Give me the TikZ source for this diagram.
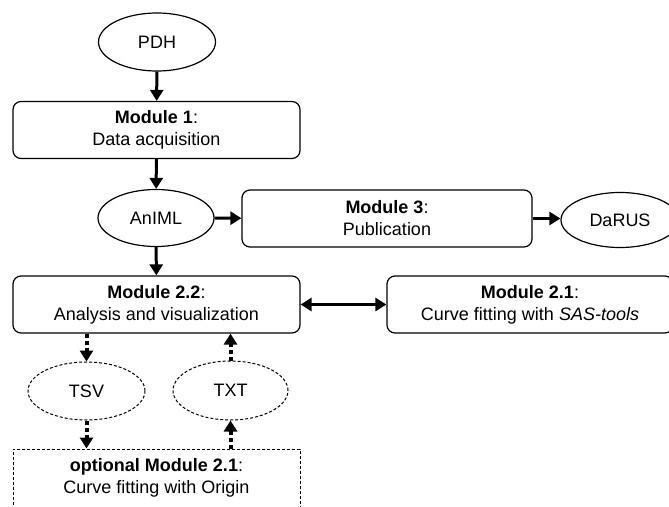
\documentclass[tikz,border=0pt]{standalone}
\usepackage{fontspec}
\setmainfont{Liberation Sans}
\usetikzlibrary{arrows.meta,shapes.geometric}
\begin{document}
\begin{tikzpicture}[x=1pt,y=-1pt,
  every node/.style={font=\fontsize{18}{22}\selectfont, align=center, inner sep=0pt},
  modbox/.style={draw, line width=1.2pt, rounded corners=8pt, minimum height=57pt},
  optbox/.style={draw, line width=1pt, dash pattern=on 3pt off 2pt, minimum height=58pt},
  oval/.style={draw, ellipse, line width=1.2pt},
  dashoval/.style={draw, ellipse, line width=1pt, dash pattern=on 3pt off 2pt},
  flow/.style={line width=3pt, -{Triangle[length=11pt,width=13pt]}},
  flowboth/.style={line width=3pt, {Triangle[length=11pt,width=13pt]}-{Triangle[length=11pt,width=13pt]}},
  dflow/.style={line width=4pt, dash pattern=on 4pt off 3pt, -{Triangle[length=11pt,width=13pt]}}
]
\clip (0,0) rectangle (669,506);
\fill[white] (0,0) rectangle (669,506);

\node[oval, minimum width=117pt, minimum height=58pt] (pdh) at (157,42) {PDH};
\node[modbox, minimum width=287pt] (m1) at (156.5,130) {\textbf{Module 1}:\\Data acquisition};
\node[oval, minimum width=116pt, minimum height=57pt] (animl) at (156,218) {AnIML};
\node[modbox, minimum width=290pt] (m3) at (387,218.5) {\textbf{Module 3}:\\Publication};
\node[oval, minimum width=118pt, minimum height=55pt] (darus) at (620,220) {DaRUS};
\node[modbox, minimum width=287pt] (m22) at (156.5,304.5) {\textbf{Module 2.2}:\\Analysis and visualization};
\node[modbox, minimum width=286pt] (m21) at (530,304.5) {\textbf{Module 2.1}:\\Curve fitting with \textit{SAS-tools}};
\node[dashoval, minimum width=117pt, minimum height=58pt] (tsv) at (86.5,391) {TSV};
\node[dashoval, minimum width=115pt, minimum height=59pt] (txt) at (230.5,390.5) {TXT};
\node[optbox, minimum width=287pt] (opt) at (156.5,478) {\textbf{optional Module 2.1}:\\Curve fitting with Origin};

\draw[flow] (pdh) -- (m1);
\draw[flow] (m1) -- (animl);
\draw[flow] (animl) -- (m3);
\draw[flow] (m3.east) -- (darus.west |- m3.east);
\draw[flow] (animl) -- (m22);
\draw[flowboth] (m22) -- (m21);
\draw[dflow] (tsv.north |- m22.south) -- (tsv.north);
\draw[dflow] (tsv.south) -- (tsv.south |- opt.north);
\draw[dflow] (txt.south |- opt.north) -- (txt.south);
\draw[dflow] (txt.north) -- (txt.north |- m22.south);
\end{tikzpicture}
\end{document}
